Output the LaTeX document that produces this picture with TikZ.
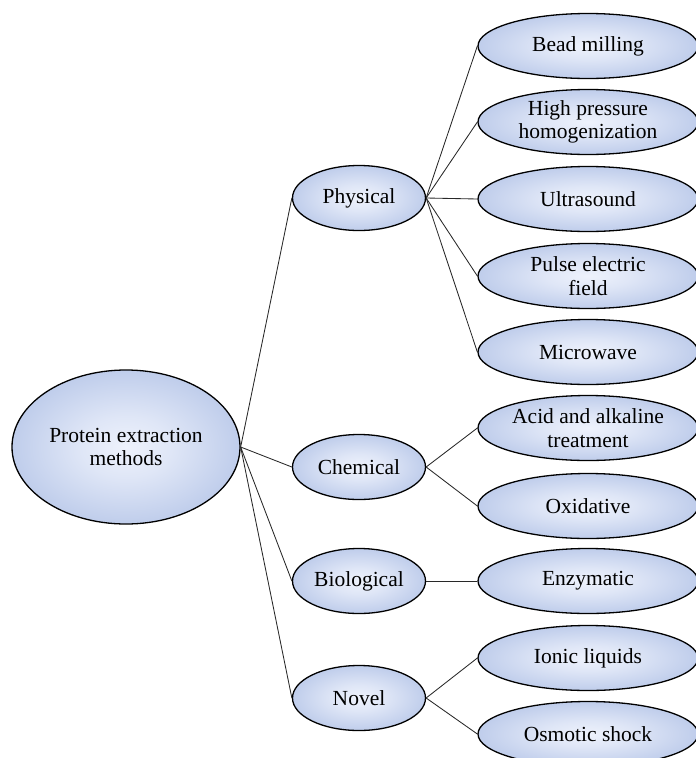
\documentclass[tikz,border=0pt]{standalone}
\usepackage{fontspec}
\setmainfont{Liberation Serif}
\usetikzlibrary{shapes.geometric}
\definecolor{ellin}{RGB}{238,242,252}
\definecolor{ellout}{RGB}{138,163,216}
\definecolor{linecol}{RGB}{40,40,40}
\pgfdeclareradialshading{ellshade}{\pgfpoint{0bp}{0bp}}{color(0bp)=(ellin); color(10bp)=(ellin!85!ellout); color(50bp)=(ellout); color(100bp)=(ellout)}
\tikzset{
  ell/.style={ellipse, draw=black, line width=1.3pt, shading=ellshade, inner sep=0pt, align=center,
    font=\fontsize{21.5}{23.5}\selectfont},
  rootell/.style={ell, minimum width=228pt, minimum height=154pt},
  midell/.style={ell, minimum width=133pt, minimum height=65pt},
  leafell/.style={ell, minimum width=220pt, minimum height=65pt},
  conn/.style={draw=linecol, line width=0.85pt}
}
\begin{document}
\begin{tikzpicture}[x=1pt,y=-1pt]
\useasboundingbox (0,0) rectangle (696,758);
\clip (0,0) rectangle (696,758);
% root
\node[rootell] (root) at (126,447) {Protein extraction\\methods};
% middle
\node[midell] (phys) at (359,198) {Physical};
\node[midell] (chem) at (359,467) {Chemical};
\node[midell] (bio) at (359,581) {Biological};
\node[midell] (nov) at (359,698) {Novel};
% leaves
\node[leafell] (bead) at (588,46) {Bead milling};
\node[leafell] (hph) at (588,122) {High pressure\\homogenization};
\node[leafell] (ultra) at (588,199) {Ultrasound};
\node[leafell] (pef) at (588,276) {Pulse electric\\field};
\node[leafell] (micro) at (588,352) {Microwave};
\node[leafell] (acid) at (588,428) {Acid and alkaline\\treatment};
\node[leafell] (oxi) at (588,506) {Oxidative};
\node[leafell] (enz) at (588,581) {Enzymatic};
\node[leafell] (ionic) at (588,658) {Ionic liquids};
\node[leafell] (osm) at (588,734) {Osmotic shock};
% connectors
\foreach \m in {phys,chem,bio,nov} \draw[conn] (root.east) -- (\m.west);
\foreach \l in {bead,hph,ultra,pef,micro} \draw[conn] (phys.east) -- (\l.west);
\foreach \l in {acid,oxi} \draw[conn] (chem.east) -- (\l.west);
\draw[conn] (bio.east) -- (enz.west);
\foreach \l in {ionic,osm} \draw[conn] (nov.east) -- (\l.west);
\end{tikzpicture}
\end{document}
